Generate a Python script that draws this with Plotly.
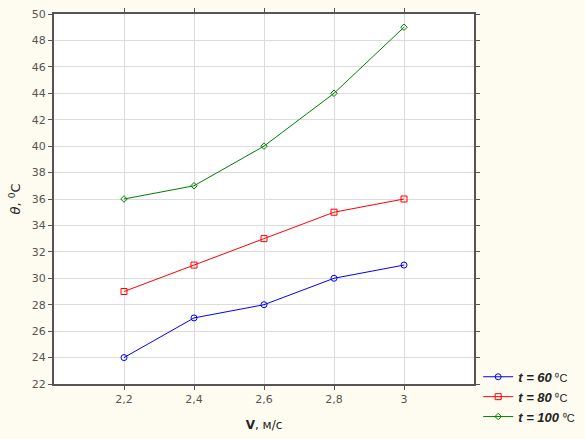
import plotly.graph_objects as go

# Data
speed = [2.2, 2.4, 2.6, 2.8, 3.0]
temp_60 = [24, 27, 28, 30, 31]
temp_80 = [29, 31, 33, 35, 36]
temp_100 = [36, 37, 40, 44, 49]
x_ticks = [2.2, 2.4, 2.6, 2.8, 3.0]
x_labels = ["2,2", "2,4", "2,6", "2,8", "3"]
y_ticks = list(range(22, 51, 2))

def label(t):
    return "<b><i>t = " + str(t) + "</i></b> <span style='font-size:11px'>⁰C</span>"

series = [
    (temp_60, label(60), "#0000ff", "circle-open", 6),
    (temp_80, label(80), "#ff0000", "square-open", 6),
    (temp_100, label(100), "#008000", "diamond-open", 5),
]

fig = go.Figure()
for ys, name, color, symbol, size in series:
    fig.add_trace(go.Scatter(
        x=speed, y=ys, name=name, mode="lines+markers",
        line=dict(color=color, width=1),
        marker=dict(symbol=symbol, size=size, color=color, line=dict(width=1, color=color)),
    ))

fig.update_layout(
    width=585, height=439,
    paper_bgcolor="#fefcf0", plot_bgcolor="white",
    margin=dict(l=54, r=111, t=14, b=55, autoexpand=False),
    font=dict(family="DejaVu Sans", size=11, color="#555"),
    showlegend=True,
    legend=dict(x=1.01, y=0.06, xanchor="left", yanchor="top",
                bgcolor="rgba(0,0,0,0)", font=dict(size=13, color="#222", family="Liberation Sans"),
                tracegroupgap=0),
)
fig.update_xaxes(
    range=[2.0, 3.2], tickvals=x_ticks, ticktext=x_labels,
    showgrid=True, gridcolor="#dcdcdc", gridwidth=1,
    showline=True, linecolor="#555", linewidth=2, mirror="ticks",
    ticks="outside", ticklen=4, tickcolor="#555",
    title=dict(text="<b>V</b>, м/с", font=dict(size=12, color="#222"), standoff=15),
    zeroline=False,
)
fig.update_yaxes(
    range=[22, 50], tickvals=y_ticks,
    showgrid=True, gridcolor="#dcdcdc", gridwidth=1,
    showline=True, linecolor="#555", linewidth=2, mirror="ticks",
    ticks="outside", ticklen=4, tickcolor="#555",
    title=dict(text="<i>θ</i>, <sup>0</sup>C", font=dict(size=13, color="#222"), standoff=8),
    zeroline=False,
)

# remove the page margin so the figure sits at the window's top-left corner
fig.write_html("out.html", config={"displayModeBar": False},
               post_script="document.body.style.margin='0';")
